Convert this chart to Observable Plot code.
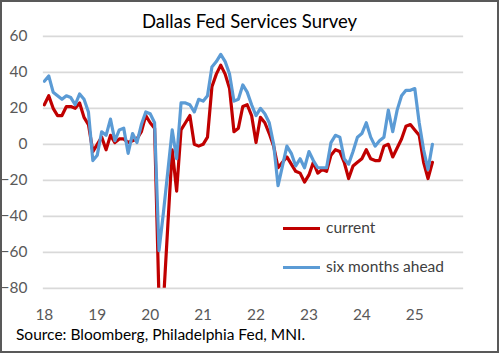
<!DOCTYPE html>
<html>
<head>
<meta charset="utf-8">
<script src="https://cdn.jsdelivr.net/npm/d3@7"></script>
<script src="https://cdn.jsdelivr.net/npm/@observablehq/plot@0.6"></script>
<style>
  html, body { margin: 0; padding: 0; background: #fff; }
  #frame { position: relative; width: 499px; height: 353px; box-sizing: border-box; border: 2px solid #595959; background: #fff; overflow: hidden; font-family: Lato, "Open Sans", sans-serif; }
  #chart { position: absolute; left: -2px; top: -2px; }
  .title { position: absolute; left: 0; width: 495px; top: 8px; text-align: center; font-size: 18.5px; color: #000; }
  .source { position: absolute; left: 14px; top: 323px; font-size: 15.5px; color: #000; }
  .leg { position: absolute; left: 281px; width: 37px; height: 3px; }
  .legt { position: absolute; left: 324px; font-size: 15.5px; color: #404040; line-height: 18px; }
</style>
</head>
<body>
<div id="frame">
  <div id="chart"></div>
  <div class="title">Dallas Fed Services Survey</div>
  <div class="leg" style="top:225px;background:#c00000"></div>
  <div class="legt" style="top:216px">current</div>
  <div class="leg" style="top:264px;background:#5b9bd5"></div>
  <div class="legt" style="top:255px">six months ahead</div>
  <div class="source">Source: Bloomberg, Philadelphia Fed, MNI.</div>
</div>
<script>
// Monthly data, Jan 2018 – May 2025
const startYear = 2018;
const current = [
  22, 27, 20, 16, 16, 21, 21, 20, 23, 15, 11, -4,
  0, 4, -3, 5, 1, 3, 3, 1, 2, 3, 7, 16,
  12, 9, -86, -88, -45, -3, -26, 8, 12, 16, 0, -1,
  0, 4, 32, 39, 44, 39, 31, 7, 9, 21, 22, 16,
  1, 15, 12, 6, -1, -13, -10, -7, -11, -15, -16, -21,
  -17, -10, -16, -14, -15, -6, -3, -4, -10, -19, -12, -10,
  -8, -3, -8, -9, -9, -1, 0, -7, -2, 3, 10, 11,
  8, 5, -10, -19, -10
];
const sixMonthsAhead = [
  35, 38, 29, 27, 25, 27, 26, 22, 28, 25, 18, -9,
  -6, 7, 5, 14, 2, 8, 9, -5, 6, 1, 11, 18,
  17, 12, -59, -38, -15, 8, -8, 23, 23, 22, 18, 25,
  24, 27, 43, 46, 50, 46, 39, 24, 25, 33, 29, 22,
  16, 20, 17, 12, 0, -23, -12, -1, -5, -12, -8, -13,
  -4, -9, -13, -13, -13, 1, 5, 4, -8, -11, -4, 4,
  6, 12, 4, -1, 2, 4, 19, 7, 19, 27, 30, 30,
  31, 12, -3, -14, 0
];
const yearTicks = [2018, 2019, 2020, 2021, 2022, 2023, 2024, 2025];
const yearLabels = ["18", "19", "20", "21", "22", "23", "24", "25"];
const yTicks = [-80, -60, -40, -20, 0, 20, 40, 60];

const rows = current.map((c, i) => ({
  t: startYear + i / 12,
  current: c,
  ahead: sixMonthsAhead[i]
}));

const chart = Plot.plot({
  width: 499,
  height: 353,
  marginLeft: 43,
  marginRight: 34,
  marginTop: 36,
  marginBottom: 64,
  x: { domain: [2017.981, 2025.923] },
  y: { domain: [-80, 60] },
  style: { fontFamily: "Lato, 'Open Sans', sans-serif", fontSize: "15.5px", color: "#595959", background: "transparent", overflow: "visible" },
  marks: [
    Plot.gridY(yTicks, { stroke: "#d9d9d9", strokeOpacity: 1, strokeWidth: 1.6 }),
    Plot.axisY(yTicks, { tickSize: 0, tickPadding: 16, label: null, fill: "#595959" }),
    Plot.axisX(yearTicks, { tickSize: 0, tickPadding: 21, label: null, fill: "#595959",
      tickFormat: d => yearLabels[yearTicks.indexOf(d)] }),
    Plot.lineY(rows, { x: "t", y: "current", stroke: "#c00000", strokeWidth: 3.2, clip: true }),
    Plot.lineY(rows, { x: "t", y: "ahead", stroke: "#5b9bd5", strokeWidth: 3.2, clip: true })
  ]
});
document.getElementById("chart").appendChild(chart);
</script>
</body>
</html>
